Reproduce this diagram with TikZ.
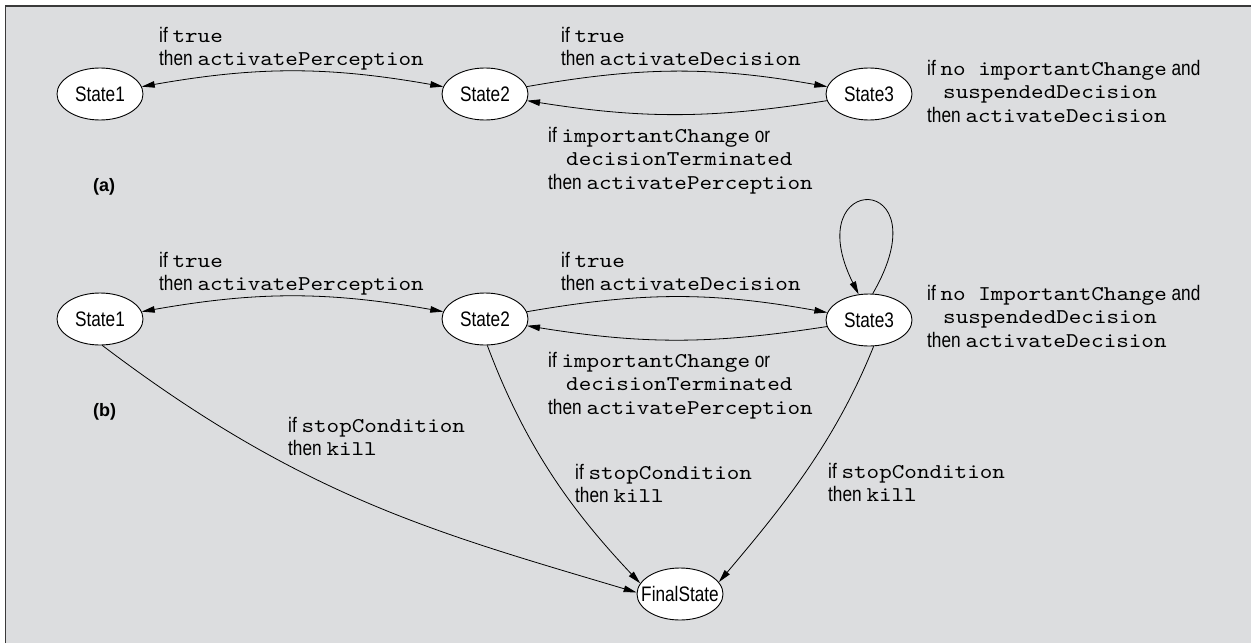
\documentclass[tikz,border=0pt]{standalone}
\usepackage{fontspec}
\setmainfont{Liberation Sans}[FakeStretch=0.82]
\newfontfamily\cwfont{lmmono10-regular.otf}[FakeStretch=1.14]
\newfontfamily\tagfont{Liberation Sans}
\usetikzlibrary{shapes.geometric,arrows.meta}
\newcommand\cw[1]{{\cwfont #1}}
\newcommand\stack[1]{\begin{tabular}[t]{@{}l@{}}#1\end{tabular}}
\newcommand\stname[1]{\makebox[0pt]{#1}}
\definecolor{panel}{HTML}{DCDDDF}
\definecolor{rule}{HTML}{3A3A3A}

\begin{document}
\begin{tikzpicture}[x=1pt,y=-1pt,
  >={Triangle[length=13pt,width=6.5pt]},
  state/.style={ellipse, draw, fill=white, line width=0.9pt,
    minimum width=86pt, minimum height=52pt, inner sep=0pt,
    font=\fontsize{21}{23.5}\selectfont},
  edge/.style={draw, line width=0.8pt},
  cond/.style={anchor=base west, inner sep=0pt,
    font=\fontsize{21}{23.5}\selectfont},
  tag/.style={anchor=base west, inner sep=0pt,
    font=\tagfont\bfseries\fontsize{18}{20}\selectfont}]

% canvas and frame
\useasboundingbox (0,0) rectangle (1251,643);
\fill[white] (0,0) rectangle (1251,643);
\fill[panel] (5.5,6) rectangle (1251,643);
\draw[rule, line width=1.6pt] (5.5,643) -- (5.5,6) -- (1251,6);

% ---------- (a) ----------
\node[state] (a1) at (100,94) {\stname{State1}};
\node[state] (a2) at (485,94) {\stname{State2}};
\node[state] (a3) at (869,94) {\stname{State3}};

\draw[edge,<->] (a1) to[bend left=10] (a2);
\draw[edge,->] (a2) to[bend left=10] (a3);
\draw[edge,->] (a3) to[bend left=9] (a2);

\node[cond] (ta1) at (159,42) {\stack{if \cw{true}\\ then \cw{activatePerception}}};
\node[cond] (ta2) at (561,42) {\stack{if \cw{true}\\ then \cw{activateDecision}}};
\node[cond] (ta3) at (927,75) {\stack{if \cw{no importantChange} and\\
  \hspace*{16pt}\cw{suspendedDecision}\\ then \cw{activateDecision}}};
\node[cond] (ta4) at (548,142) {\stack{if \cw{importantChange} or\\
  \hspace*{18pt}\cw{decisionTerminated}\\ then \cw{activatePerception}}};
\node[tag] (taga) at (93,191) {(a)};

% ---------- (b) ----------
\node[state] (b1) at (100,319) {\stname{State1}};
\node[state] (b2) at (485,319) {\stname{State2}};
\node[state] (b3) at (869,320) {\stname{State3}};
\node[state] (fin) at (680,594) {\stname{FinalState}};

\draw[edge,<->] (b1) to[bend left=10] (b2);
\draw[edge,->] (b2) to[bend left=10] (b3);
\draw[edge,->] (b3) to[bend left=9] (b2);
\draw[edge,->] (b3.82) .. controls +(72,-124) and +(-62,-124) .. (b3.112);

\draw[edge,->] (b1.-85) .. controls (302,497) and (437,533) .. (fin.178);
\draw[edge,->] (b2.-85) .. controls (525,446) and (571,510) .. (fin.165);
\draw[edge,->] (b3.-80) .. controls (836,440) and (785,504) .. (fin.17);

\node[cond] (tb1) at (159,267) {\stack{if \cw{true}\\ then \cw{activatePerception}}};
\node[cond] (tb2) at (561,267) {\stack{if \cw{true}\\ then \cw{activateDecision}}};
\node[cond] (tb3) at (927,300) {\stack{if \cw{no ImportantChange} and\\
  \hspace*{16pt}\cw{suspendedDecision}\\ then \cw{activateDecision}}};
\node[cond] (tb4) at (548,367) {\stack{if \cw{importantChange} or\\
  \hspace*{18pt}\cw{decisionTerminated}\\ then \cw{activatePerception}}};
\node[tag] (tagb) at (93,416) {(b)};

\node[cond] (k1) at (288,432) {\stack{if \cw{stopCondition}\\ then \cw{kill}}};
\node[cond] (k2) at (575,479) {\stack{if \cw{stopCondition}\\ then \cw{kill}}};
\node[cond] (k3) at (828,478) {\stack{if \cw{stopCondition}\\ then \cw{kill}}};
\end{tikzpicture}
\end{document}
